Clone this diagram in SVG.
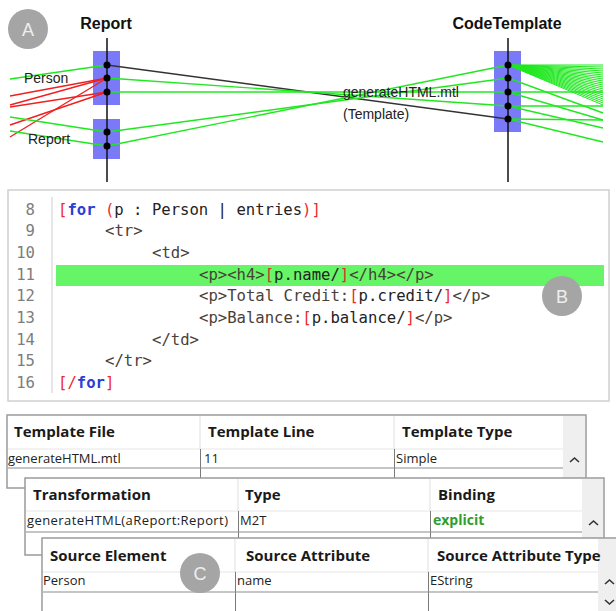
<svg xmlns="http://www.w3.org/2000/svg" width="616" height="611" viewBox="0 0 616 611">
<style>
.title{font-family:"Liberation Sans",Arial,sans-serif;font-weight:bold;font-size:16px;fill:#111;text-anchor:middle}
.lbl{font-family:"Liberation Sans",Arial,sans-serif;font-size:14px;fill:#222}
.act{fill:#7a7af8}
.axis{stroke:#111;stroke-width:1.5}
.dot{fill:#000}
.g{stroke:#1fe81f;stroke-width:1.4;fill:none}
.gf{stroke:#1fe81f;stroke-width:1;fill:none}
.r{stroke:#f02020;stroke-width:1.4;fill:none}
.k{stroke:#333;stroke-width:1.4;fill:none}
.badge circle{fill:#a5a5a5}
.badge text{font-family:"Liberation Sans",Arial,sans-serif;font-size:18px;fill:#eeeeee;text-anchor:middle}
.code{font-family:"DejaVu Sans Mono","Liberation Mono",monospace;font-size:15.6px;fill:#4a4038}
.ln{fill:#7d7d7d;text-anchor:end}
.br{fill:#ee2a2a}
.kw{fill:#2a3ed6;font-weight:bold}
.ex{fill:#222}
.th{font-family:"Open Sans","Noto Sans",sans-serif;font-weight:bold;font-size:15px;fill:#1a1a1a}
.td{font-family:"Open Sans","Noto Sans",sans-serif;font-size:13px;fill:#222}
.frame{fill:#fff;stroke:#9a9a9a;stroke-width:1.5}
.hsep{stroke:#e6e6e6;stroke-width:1}
.hcol{stroke:#e0e0e0;stroke-width:1}
.rsep{stroke:#8c8c8c;stroke-width:1.2}
.csep{stroke:#7a7a7a;stroke-width:1}
.scroll{fill:#efefef}
.chev{stroke:#333;stroke-width:1.6;fill:none}
</style>

<!-- lifeline: Report -->
<g id="report">
  <rect class="act" x="93" y="51" width="27" height="54"/>
  <rect class="act" x="93" y="119" width="27" height="40"/>
  <line class="axis" x1="107" y1="38" x2="107" y2="182"/>
  <text class="title" x="106" y="29">Report</text>
</g>

<!-- lifeline: CodeTemplate -->
<g id="codetemplate">
  <rect class="act" x="494" y="51" width="27" height="81"/>
  <line class="axis" x1="508" y1="38" x2="508" y2="182"/>
  <text class="title" x="507" y="29">CodeTemplate</text>
</g>

<!-- trace links -->
<g id="connectors">
  <!-- incoming on the left -->
  <line class="g" x1="10" y1="79" x2="107" y2="65"/>
  <line class="r" x1="10" y1="96" x2="107" y2="78"/>
  <line class="r" x1="10" y1="105" x2="107" y2="78"/>
  <line class="r" x1="10" y1="107" x2="107" y2="92"/>
  <line class="r" x1="10" y1="125" x2="107" y2="92"/>
  <line class="r" x1="10" y1="137" x2="107" y2="78"/>
  <line class="g" x1="10" y1="117" x2="107" y2="132"/>
  <line class="g" x1="10" y1="131" x2="107" y2="146"/>
  <!-- Report to CodeTemplate -->
  <line class="k" x1="107" y1="65" x2="508" y2="119"/>
  <line class="g" x1="107" y1="78" x2="508" y2="106"/>
  <line class="g" x1="107" y1="92" x2="508" y2="92"/>
  <line class="g" x1="107" y1="132" x2="508" y2="78"/>
  <line class="g" x1="107" y1="146" x2="508" y2="65"/>
  <!-- outgoing on the right -->
  <path class="gf" d="M508,65H603M508,65L603,67M508,65L603,69M508,65L603,71M508,65L603,73M508,65L603,75M508,65L603,77M508,65L603,79M508,65L603,81M508,65L603,83M508,65L603,85M508,65L603,87M508,65L603,89M508,65L603,91M508,65L603,93M508,65L603,95M508,65L603,97M508,65L603,99M508,65L603,101M508,65L603,103M508,65L603,105"/>
  <line class="g" x1="508" y1="78" x2="603" y2="113"/>
  <line class="g" x1="508" y1="92" x2="603" y2="92"/>
  <line class="g" x1="508" y1="92" x2="603" y2="120"/>
  <line class="g" x1="508" y1="106" x2="603" y2="106"/>
  <line class="g" x1="508" y1="106" x2="603" y2="128"/>
  <line class="g" x1="508" y1="119" x2="603" y2="120"/>
  <line class="g" x1="508" y1="119" x2="603" y2="142"/>
</g>

<!-- anchor points -->
<g id="anchors" class="dot">
  <circle cx="107" cy="65" r="3.5"/>
  <circle cx="107" cy="78" r="3.5"/>
  <circle cx="107" cy="92" r="3.5"/>
  <circle cx="107" cy="132" r="3.5"/>
  <circle cx="107" cy="146" r="3.5"/>
  <circle cx="508" cy="65" r="3.5"/>
  <circle cx="508" cy="78" r="3.5"/>
  <circle cx="508" cy="92" r="3.5"/>
  <circle cx="508" cy="106" r="3.5"/>
  <circle cx="508" cy="119" r="3.5"/>
</g>

<g id="labels">
  <text class="lbl" x="24" y="83">Person</text>
  <text class="lbl" x="28" y="144">Report</text>
  <text class="lbl" x="343" y="97">generateHTML.mtl</text>
  <text class="lbl" x="343" y="119">(Template)</text>
</g>

<!-- template editor -->
<g id="editor">
  <rect x="8" y="190" width="601" height="211" fill="#fff" stroke="#d0d0d0" stroke-width="1.5"/>
  <rect x="56" y="265" width="548" height="21" fill="#66f566"/>
  <line x1="52" y1="197" x2="52" y2="393" stroke="#cccccc" stroke-width="1"/>
  <g class="code">
    <text class="ln" x="35" y="214.5">8</text>
    <text class="ln" x="35" y="236.2">9</text>
    <text class="ln" x="35" y="257.8">10</text>
    <text class="ln" x="35" y="279.5">11</text>
    <text class="ln" x="35" y="301.2">12</text>
    <text class="ln" x="35" y="322.8">13</text>
    <text class="ln" x="35" y="344.5">14</text>
    <text class="ln" x="35" y="366.2">15</text>
    <text class="ln" x="35" y="387.8">16</text>

    <text x="58" y="214.5" xml:space="preserve"><tspan class="br">[</tspan><tspan class="kw">for</tspan> <tspan class="br">(</tspan><tspan class="ex">p : Person | entries</tspan><tspan class="br">)]</tspan></text>
    <text x="105" y="236.2">&lt;tr&gt;</text>
    <text x="152" y="257.8">&lt;td&gt;</text>
    <text x="199" y="279.5">&lt;p&gt;&lt;h4&gt;<tspan class="br">[</tspan><tspan class="ex">p.name/</tspan><tspan class="br">]</tspan>&lt;/h4&gt;&lt;/p&gt;</text>
    <text x="199" y="301.2">&lt;p&gt;Total Credit:<tspan class="br">[</tspan><tspan class="ex">p.credit/</tspan><tspan class="br">]</tspan>&lt;/p&gt;</text>
    <text x="199" y="322.8">&lt;p&gt;Balance:<tspan class="br">[</tspan><tspan class="ex">p.balance/</tspan><tspan class="br">]</tspan>&lt;/p&gt;</text>
    <text x="152" y="344.5">&lt;/td&gt;</text>
    <text x="105" y="366.2">&lt;/tr&gt;</text>
    <text x="58" y="387.8"><tspan class="br">[/</tspan><tspan class="kw">for</tspan><tspan class="br">]</tspan></text>
  </g>
</g>

<!-- property table: template -->
<g id="table-template">
  <rect class="frame" x="7" y="415" width="579" height="73"/>
  <rect class="scroll" x="563" y="416" width="22" height="71"/>
  <line class="hsep" x1="8" y1="449" x2="563" y2="449"/>
  <line class="hcol" x1="200" y1="416" x2="200" y2="449"/>
  <line class="hcol" x1="394" y1="416" x2="394" y2="449"/>
  <line class="csep" x1="200.5" y1="449" x2="200.5" y2="478"/>
  <line class="csep" x1="394.5" y1="449" x2="394.5" y2="478"/>
  <line class="rsep" x1="8" y1="468" x2="563" y2="468"/>
  <text class="th" x="14" y="437">Template File</text>
  <text class="th" x="208" y="437">Template Line</text>
  <text class="th" x="402" y="437">Template Type</text>
  <text class="td" x="8" y="463">generateHTML.mtl</text>
  <text class="td" x="204" y="463">11</text>
  <text class="td" x="396" y="463">Simple</text>
  <path class="chev" d="M570,462L574.5,458L579,462"/>
</g>

<!-- property table: transformation -->
<g id="table-transformation">
  <rect class="frame" x="25" y="478" width="579" height="77"/>
  <rect class="scroll" x="582" y="479" width="21" height="75"/>
  <line class="hsep" x1="26" y1="511" x2="582" y2="511"/>
  <line class="hcol" x1="238" y1="479" x2="238" y2="511"/>
  <line class="hcol" x1="430" y1="479" x2="430" y2="511"/>
  <line class="csep" x1="238.5" y1="511" x2="238.5" y2="540"/>
  <line class="csep" x1="430.5" y1="511" x2="430.5" y2="540"/>
  <line class="rsep" x1="26" y1="532" x2="582" y2="532"/>
  <text class="th" x="33" y="500">Transformation</text>
  <text class="th" x="245" y="500">Type</text>
  <text class="th" x="438" y="500">Binding</text>
  <text class="td" x="27" y="525" textLength="201" lengthAdjust="spacing">generateHTML(aReport:Report)</text>
  <text class="td" x="240" y="525">M2T</text>
  <text class="td" x="433" y="525" style="fill:#2e9e2e;font-weight:bold;font-size:14px">explicit</text>
  <path class="chev" d="M589,525L593.5,521L598,525"/>
</g>

<!-- property table: source -->
<g id="table-source">
  <rect class="frame" x="42" y="538" width="580" height="80"/>
  <rect class="scroll" x="598" y="539" width="18" height="72"/>
  <line class="hsep" x1="43" y1="572" x2="598" y2="572"/>
  <line class="hcol" x1="235" y1="539" x2="235" y2="572"/>
  <line class="hcol" x1="428" y1="539" x2="428" y2="572"/>
  <line class="csep" x1="235.5" y1="572" x2="235.5" y2="611"/>
  <line class="csep" x1="428.5" y1="572" x2="428.5" y2="611"/>
  <line class="rsep" x1="43" y1="592" x2="598" y2="592"/>
  <text class="th" x="50" y="561">Source Element</text>
  <text class="th" x="246" y="561">Source Attribute</text>
  <text class="th" x="437" y="561">Source Attribute Type</text>
  <text class="td" x="43" y="585">Person</text>
  <text class="td" x="237" y="585">name</text>
  <text class="td" x="430" y="585">EString</text>
  <path class="chev" d="M605,584L609.5,580L614,584"/>
  <path class="chev" d="M605,600L609.5,604L614,600"/>
</g>

<!-- section badges -->
<g id="badge-a" class="badge"><circle cx="28" cy="29" r="20"/><text x="28" y="35.5">A</text></g>
<g id="badge-b" class="badge"><circle cx="562" cy="296" r="20"/><text x="562" y="302.5">B</text></g>
<g id="badge-c" class="badge"><circle cx="200" cy="573" r="20"/><text x="200" y="579.5">C</text></g>
</svg>
